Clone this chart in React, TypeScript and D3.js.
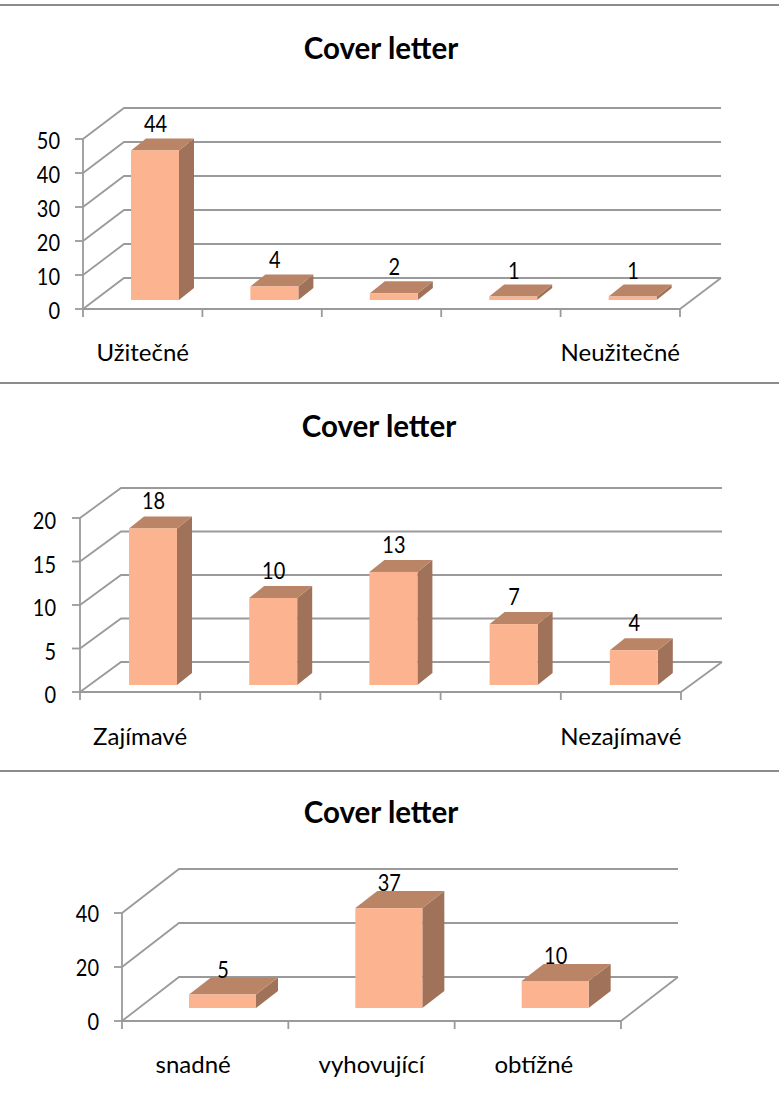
import React from "react";
import * as d3 from "d3";

const titleText = "Cover letter";

const categories1 = ["Užitečné", "", "", "", "Neužitečné"];
const values1 = [44, 4, 2, 1, 1];
const ticks1 = [0, 10, 20, 30, 40, 50];

const categories2 = ["Zajímavé", "", "", "", "Nezajímavé"];
const values2 = [18, 10, 13, 7, 4];
const ticks2 = [0, 5, 10, 15, 20];

const categories3 = ["snadné", "vyhovující", "obtížné"];
const values3 = [5, 37, 10];
const ticks3 = [0, 20, 40];

const FONT = "Lato, 'Open Sans', sans-serif";
const GRID = "#9a9a9a";
const AXIS = "#9a9a9a";
const FRONT = "#fbb48f";
const TOP = "#ba8567";
const SIDE = "#9f7259";

type Layout = {
  x0: number; x1: number; y0: number; y1: number; dx: number; dy: number;
  barInset: number; barW: number; barLift: number; bdx: number; bdy: number;
  titleX: number; titleY: number; labelY: number; tickEnd: number; tickShift: number; valGap: number;
  labelShift: number[];
};

const DIGIT_W = 11.6;
function Num({ x, y, v, anchor }: { x: number; y: number; v: number; anchor: "middle" | "end" }) {
  const s = String(v);
  return (
    <text x={x} y={y} textAnchor={anchor} fontFamily={FONT} fontSize={24} fill="#000"
      textLength={s.length * DIGIT_W} lengthAdjust="spacingAndGlyphs">{s}</text>
  );
}

function Chart({ cats, vals, ticks, l }: { cats: string[]; vals: number[]; ticks: number[]; l: Layout }) {
  const dom = d3.extent(ticks) as [number, number];
  const y = d3.scaleLinear().domain(dom).range([l.y0, l.y1]);
  const x = d3.scaleBand<number>().domain(cats.map((_, i) => i)).range([l.x0, l.x1]);
  const h = (v: number) => y(0) - y(v);
  const path = d3.line();
  const bw = x.bandwidth();
  return (
    <g>
      <text x={l.titleX} y={l.titleY} textAnchor="middle" fontFamily={FONT} fontWeight={700} fontSize={29.5} fill="#000">{titleText}</text>
      {ticks.map((t) => (
        <path key={t} fill="none" stroke={GRID} strokeWidth={1.8}
          d={path([[l.x0, y(t)], [l.x0 + l.dx, y(t) + l.dy], [l.x1 + l.dx, y(t) + l.dy]]) as string} />
      ))}
      <path fill="none" stroke={GRID} strokeWidth={1.8}
        d={path([[l.x1, y(0)], [l.x1 + l.dx, y(0) + l.dy]]) as string} />
      <line x1={l.x0} x2={l.x0} y1={y(dom[1])} y2={y(0)} stroke={AXIS} strokeWidth={1.8} />
      <line x1={l.x0} x2={l.x1} y1={y(0)} y2={y(0)} stroke={AXIS} strokeWidth={1.8} />
      {ticks.map((t) => (
        <g key={t}>
          <line x1={l.x0 - 8} x2={l.x0} y1={y(t)} y2={y(t)} stroke={AXIS} strokeWidth={1.8} />
          <Num x={l.tickEnd} y={y(t) + 8 + l.tickShift} v={t} anchor="end" />
        </g>
      ))}
      {d3.range(cats.length + 1).map((i) => {
        const px = l.x0 + i * bw;
        return <line key={i} x1={px} x2={px} y1={y(0)} y2={y(0) + 8} stroke={AXIS} strokeWidth={1.8} />;
      })}
      {vals.map((v, i) => {
        const fx = (x(i) as number) + l.barInset;
        const base = y(0) - l.barLift;
        const topY = base - h(v);
        const { barW: w, bdx, bdy } = l;
        return (
          <g key={i}>
            <path fill={SIDE} d={path([[fx + w, topY], [fx + w + bdx, topY - bdy], [fx + w + bdx, base - bdy], [fx + w, base]]) + "Z"} />
            <path fill={TOP} d={path([[fx, topY], [fx + bdx, topY - bdy], [fx + w + bdx, topY - bdy], [fx + w, topY]]) + "Z"} />
            <rect x={fx} y={topY} width={w} height={base - topY} fill={FRONT} />
            <Num x={fx + w / 2 + 0.5} y={topY - l.valGap} v={v} anchor="middle" />
          </g>
        );
      })}
      {cats.map((c, i) => c && (
        <text key={i} x={(x(i) as number) + bw / 2 + l.labelShift[i]} y={l.labelY} textAnchor="middle" fontFamily={FONT} fontSize={24} fill="#000">{c}</text>
      ))}
    </g>
  );
}

const layout1: Layout = { x0: 83, x1: 680, y0: 309, y1: 139, dx: 41, dy: -31, barInset: 48, barW: 48, barLift: 9, bdx: 15, bdy: 12, titleX: 381, titleY: 59, labelY: 361, tickEnd: 60, tickShift: 2, valGap: 18, labelShift: [0, 0, 0, 0, 0] };
const layout2: Layout = { x0: 80, x1: 681, y0: 692, y1: 518, dx: 41, dy: -30, barInset: 49, barW: 48, barLift: 7, bdx: 15, bdy: 12, titleX: 379, titleY: 437, labelY: 745, tickEnd: 56, tickShift: 3, valGap: 19, labelShift: [0, 0, 0, 0, 0] };
const layout3: Layout = { x0: 122, x1: 621, y0: 1021, y1: 913, dx: 57, dy: -44, barInset: 67, barW: 67, barLift: 13, bdx: 22, bdy: 17, titleX: 381, titleY: 823, labelY: 1073, tickEnd: 99, tickShift: 1, valGap: 17, labelShift: [-12, 0, -4] };

const dividers = [5, 383, 771];

export default function App() {
  return (
    <svg width={779} height={1093} style={{ position: "absolute", left: 0, top: 0, background: "#fff" }}>
      {dividers.map((d) => <line key={d} x1={0} x2={779} y1={d} y2={d} stroke="#8c8c8c" strokeWidth={2} />)}
      <Chart cats={categories1} vals={values1} ticks={ticks1} l={layout1} />
      <Chart cats={categories2} vals={values2} ticks={ticks2} l={layout2} />
      <Chart cats={categories3} vals={values3} ticks={ticks3} l={layout3} />
    </svg>
  );
}
